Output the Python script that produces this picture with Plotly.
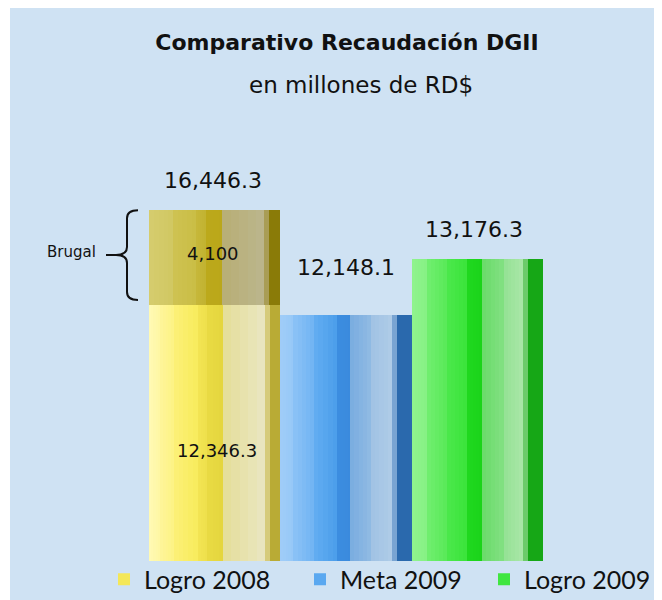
import plotly.graph_objects as go

# ---------------- data ----------------
categories = ["Logro 2008", "Meta 2009", "Logro 2009"]
recaudacion = [12346.3, 12148.1, 13176.3]   # millones de RD$
brugal_label = "Brugal"
brugal_extra = [4100.0]                      # sumado sobre Logro 2008
total_2008 = [16446.3]

title_text = "Comparativo Recaudación DGII"
subtitle_text = "en millones de RD$"

# ---------------- styles ----------------
PANEL = "#CFE2F3"
FONT = "DejaVu Sans"

# stripe segments: (start_frac, end_frac, colour_start, colour_end)
seg_yellow = [
    (0.00, 0.085, "#FFFAB6", "#FEF7A2"),
    (0.085, 0.19, "#FEF59A", "#FDF384"),
    (0.19, 0.37, "#FCF178", "#F8EB5C"),
    (0.37, 0.44, "#F3E554", "#EFE04C"),
    (0.44, 0.56, "#E9DB44", "#E5D63E"),
    (0.56, 0.885, "#E4DE98", "#EAE6C2"),
    (0.885, 0.925, "#D6CB7A", "#D6CB7A"),
    (0.925, 1.00, "#B9AB35", "#B9AB35"),
]
seg_blue = [
    (0.00, 0.10, "#A0CDF8", "#96C8F7"),
    (0.10, 0.254, "#8CC2F6", "#70B4F3"),
    (0.254, 0.433, "#64AEF2", "#4A9DEA"),
    (0.433, 0.534, "#3C8DE0", "#3A8ADD"),
    (0.534, 0.687, "#78ACE0", "#92BBE3"),
    (0.687, 0.852, "#A0C2E4", "#AFCCE7"),
    (0.852, 0.89, "#79A4D2", "#79A4D2"),
    (0.89, 1.00, "#2A69AD", "#2A69AD"),
]
seg_green = [
    (0.00, 0.119, "#90F38E", "#86F184"),
    (0.119, 0.27, "#72EE70", "#58EA58"),
    (0.27, 0.422, "#4CE84C", "#3AE43A"),
    (0.422, 0.535, "#20D81F", "#1AD41A"),
    (0.535, 0.70, "#6ADB6A", "#82E082"),
    (0.70, 0.85, "#94E294", "#AAE6A8"),
    (0.85, 0.888, "#6CCB6A", "#6CCB6A"),
    (0.888, 1.00, "#16A716", "#16A716"),
]
seg_olive = [
    (0.00, 0.184, "#D5CC6E", "#D1C862"),
    (0.184, 0.361, "#CEC352", "#CABD45"),
    (0.361, 0.437, "#C6B83A", "#C2B230"),
    (0.437, 0.558, "#BCA91B", "#BAA71A"),
    (0.558, 0.879, "#B8AE74", "#BBB68E"),
    (0.879, 0.917, "#A99D55", "#A99D55"),
    (0.917, 1.00, "#8A7B08", "#8A7B08"),
]


def _hex(c):
    c = c.lstrip("#")
    return [int(c[i:i + 2], 16) for i in (0, 2, 4)]


def _mix(c0, c1, t):
    a, b = _hex(c0), _hex(c1)
    return "#%02X%02X%02X" % tuple(round(a[i] + (b[i] - a[i]) * t) for i in range(3))


def stripes(segments, n=5):
    out = []
    for a, b, c0, c1 in segments:
        if c0 == c1:
            out.append((a, b, c0))
            continue
        for k in range(n):
            t0 = a + (b - a) * k / n
            t1 = a + (b - a) * (k + 1) / n
            out.append((t0, t1, _mix(c0, c1, (k + 0.5) / n)))
    return out


def px(p):
    # reference screen pixel -> paper x
    return (p - 149) / 394


def py(p):
    # reference screen pixel -> paper y
    return (561 - p) / 461


fig = go.Figure()

series_segments = [seg_yellow, seg_blue, seg_green]
legend_colours = ["#F4E758", "#5AA8F0", "#40E640"]
legend_ids = ["legend", "legend2", "legend3"]
legend_left_px = [104, 300, 484]

for i, segs in enumerate(series_segments):
    for a, b, col in stripes(segs):
        fig.add_trace(go.Bar(
            x=[categories[i]], y=[recaudacion[i]],
            width=[min(b + 0.004, 1.0) - a], offset=[-0.5 + a],
            marker=dict(color=col, line=dict(width=0)),
            name=categories[i], legendgroup=categories[i],
            showlegend=False, hoverinfo="skip",
        ))
    # legend entry (empty stand-in, same group)
    fig.add_trace(go.Bar(
        x=[categories[i]], y=[None],
        marker=dict(color=legend_colours[i], line=dict(width=0)),
        name=categories[i], legendgroup=categories[i], showlegend=True,
        legend=legend_ids[i], hoverinfo="skip",
    ))

# Brugal segment on its own (overlaid) axis
for a, b, col in stripes(seg_olive):
    fig.add_trace(go.Bar(
        x=[categories[0]], y=[brugal_extra[0]], base=[recaudacion[0]],
        width=[min(b + 0.004, 1.0) - a], offset=[-0.5 + a],
        marker=dict(color=col, line=dict(width=0)),
        yaxis="y2", showlegend=False, hoverinfo="skip",
    ))

top1 = recaudacion[0] + brugal_extra[0]
mid1 = recaudacion[0] + brugal_extra[0] / 2


def fmt1(v):
    return f"{v:,.1f}"


annotations = [
    dict(x=categories[0], y=total_2008[0], xref="x", yref="y2", text=fmt1(total_2008[0]),
         showarrow=False, yanchor="middle", yshift=30, xshift=-2,
         font=dict(family=FONT, size=22, color="#111111")),
    dict(x=categories[1], y=recaudacion[1], xref="x", yref="y", text=fmt1(recaudacion[1]),
         showarrow=False, yanchor="middle", yshift=48, xshift=0,
         font=dict(family=FONT, size=22, color="#111111")),
    dict(x=categories[2], y=recaudacion[2], xref="x", yref="y", text=fmt1(recaudacion[2]),
         showarrow=False, yanchor="middle", yshift=29, xshift=-3,
         font=dict(family=FONT, size=22, color="#111111")),
    dict(x=categories[0], y=mid1, xref="x", yref="y2", text=f"{brugal_extra[0]:,.0f}",
         showarrow=False, yanchor="middle", yshift=4, xshift=-2,
         font=dict(family=FONT, size=18, color="#111111")),
    dict(x=categories[0], y=0.24, xref="x", yref="paper", text=fmt1(recaudacion[0]),
         showarrow=False, yanchor="middle", xshift=2,
         font=dict(family=FONT, size=18, color="#111111")),
    dict(x=px(71), y=mid1, xref="paper", yref="y2", text=brugal_label,
         showarrow=False, yanchor="middle", xanchor="center", yshift=5,
         font=dict(family=FONT, size=15, color="#111111")),
    dict(x=px(361), y=py(85), xref="paper", yref="paper",
         text=subtitle_text, showarrow=False, yanchor="middle", xanchor="center",
         font=dict(family=FONT, size=23, color="#111111")),
]

# brace beside the Brugal segment (x in paper, y in y2 units)
Y2_LO, Y2_HI = 1225, 21225
s2 = 461 / (Y2_HI - Y2_LO)
x_end, x_sp, x_tip, x_dash = px(138), px(127), px(116), px(106)
top = top1
bot = recaudacion[0] + brugal_extra[0] * 0.05
mid = (top + bot) / 2
d = 8 / s2
brace = (f"M {x_end},{top} Q {x_sp},{top} {x_sp},{top - d} "
         f"L {x_sp},{mid + d} Q {x_sp},{mid} {x_tip},{mid} L {x_dash},{mid} "
         f"M {x_tip},{mid} Q {x_sp},{mid} {x_sp},{mid - d} "
         f"L {x_sp},{bot + d} Q {x_sp},{bot} {x_end},{bot}")

shapes = [
    dict(type="rect", xref="paper", yref="paper",
         x0=px(10), x1=px(680), y0=py(620), y1=py(8),
         fillcolor=PANEL, line=dict(width=0), layer="below"),
    dict(type="path", xref="paper", yref="y2", path=brace,
         line=dict(color="#111111", width=2)),
]

legend_style = dict(orientation="h", xanchor="left", y=0.01, yanchor="top",
                    font=dict(family="Lato", size=25, color="#111111"),
                    bgcolor="rgba(0,0,0,0)", itemwidth=30)

# page body adds an 8px offset; margins below are in figure pixels
fig.update_layout(
    width=662, height=600,
    margin=dict(l=141, r=127, t=92, b=47, autoexpand=False),
    paper_bgcolor="#FFFFFF", plot_bgcolor="rgba(0,0,0,0)",
    barmode="overlay", bargap=0,
    title=dict(text=f"<b>{title_text}</b>", x=(347 - 8) / 662, xanchor="center",
               y=1 - (42 - 8) / 600, yanchor="middle", yref="container",
               font=dict(family=FONT, size=22, color="#111111")),
    xaxis=dict(visible=False, range=[-0.5, 2.5], fixedrange=True),
    yaxis=dict(visible=False, range=[7700, 16051], fixedrange=True),
    yaxis2=dict(visible=False, range=[Y2_LO, Y2_HI], overlaying="y", fixedrange=True),
    legend=dict(x=px(legend_left_px[0]), **legend_style),
    legend2=dict(x=px(legend_left_px[1]), **legend_style),
    legend3=dict(x=px(legend_left_px[2]), **legend_style),
    annotations=annotations,
    shapes=shapes,
    hovermode=False,
)

fig.write_html("out.html")
